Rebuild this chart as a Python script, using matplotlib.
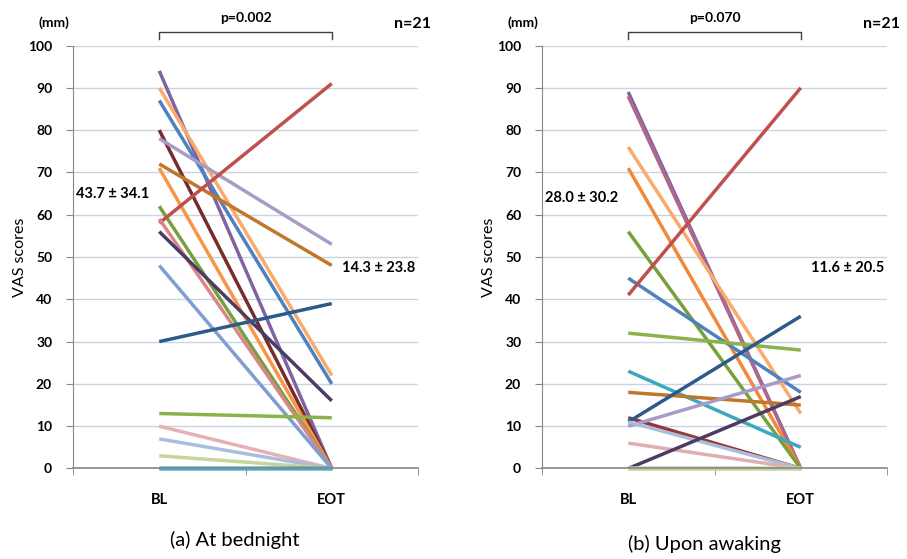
import matplotlib
matplotlib.use("Agg")
import matplotlib.pyplot as plt

plt.rcParams["font.family"] = ["Lato", "DejaVu Sans"]

timepoints = ["BL", "EOT"]

# (a) at bednight, one value per subject
bed_bl = [94, 90, 87, 80, 78, 72, 71, 62, 58, 59, 56, 48, 30, 13, 10, 7, 3, 0, 0, 0, 0]
bed_eot = [0, 22, 20, 0, 53, 48, 0, 0, 91, 0, 16, 0, 39, 12, 0, 0, 0, 0, 0, 0, 0]
bed_colors = ["#8064A2", "#F9AB6B", "#4F81BD", "#772C2A", "#A99BC8", "#C0762B",
              "#F79646", "#77A03C", "#C0504D", "#D9868A", "#4D3B62", "#7F9FD0",
              "#2C5A8C", "#8AB34A", "#E6B0B4", "#A9BEDE", "#C3D69B", "#4BACC6",
              "#4BACC6", "#4BACC6", "#4BACC6"]

# (b) upon awaking
wake_bl = [89, 88, 76, 71, 56, 45, 41, 32, 23, 18, 12, 11, 10, 11, 6, 0, 0, 0, 0, 0, 0]
wake_eot = [0, 0, 13, 0, 0, 18, 90, 28, 5, 15, 0, 36, 22, 0, 0, 17, 0, 0, 0, 0, 0]
wake_colors = ["#8064A2", "#B0688A", "#F9AB6B", "#F08A3A", "#77A03C", "#4F81BD",
               "#C0504D", "#8AB34A", "#3BA8C0", "#C0762B", "#953735", "#2C5A8C",
               "#A99BC8", "#A9BEDE", "#E0AEB0", "#4D3B62", "#C3D69B", "#C3D69B",
               "#C3D69B", "#C3D69B", "#C3D69B"]

panels = [
    dict(bl=bed_bl, eot=bed_eot, colors=bed_colors, p="p=0.002",
         bl_txt="43.7 \u00b1 34.1", eot_txt="14.3 \u00b1 23.8", caption="(a) At bednight",
         bl_y=65, eot_y=47.3, cap_y=-0.168),
    dict(bl=wake_bl, eot=wake_eot, colors=wake_colors, p="p=0.070",
         bl_txt="28.0 \u00b1 30.2", eot_txt="11.6 \u00b1 20.5", caption="(b) Upon awaking",
         bl_y=64, eot_y=47.3, cap_y=-0.178),
]

fig = plt.figure(figsize=(9.07, 5.59), dpi=100)
lefts = [73 / 907, 542 / 907]
grey = "#868686"

for left, pan in zip(lefts, panels):
    ax = fig.add_axes([left, 0.1619, 0.3804, 0.7567])
    ax.set_xlim(0, 2)
    ax.set_ylim(0, 100)
    ax.set_yticks(range(0, 101, 10))
    ax.yaxis.grid(True, color="#C9D3E2", lw=1)
    ax.set_axisbelow(True)
    for s in ["top", "right"]:
        ax.spines[s].set_visible(False)
    ax.spines["left"].set_color(grey)
    ax.spines["bottom"].set_color(grey)
    ax.spines["bottom"].set_linewidth(1.2)

    for b, e, c in zip(pan["bl"], pan["eot"], pan["colors"]):
        ax.plot([0.5, 1.5], [b, e], color=c, lw=2.5, solid_capstyle="butt", clip_on=False)

    ax.set_xticks([0.5, 1.5], timepoints)
    ax.set_xticks([0, 1, 2], minor=True)
    ax.tick_params(axis="x", which="major", length=0, pad=18, labelsize=10.5)
    ax.tick_params(axis="x", which="minor", length=5, color=grey, direction="out")
    ax.tick_params(axis="y", length=5, color=grey, pad=10, labelsize=10)
    for lab in ax.get_xticklabels() + ax.get_yticklabels():
        lab.set_fontweight("bold")

    ax.set_ylabel("VAS scores", fontsize=11.5, labelpad=1)
    ax.text(-0.055, 1.055, "(mm)", transform=ax.transAxes, ha="center", va="center",
            fontsize=10, fontweight="bold")
    ax.text(0.985, 1.05, "n=21", transform=ax.transAxes, ha="center", va="center",
            fontsize=11.5, fontweight="bold")

    # significance bracket
    ax.plot([0.5, 0.5, 1.5, 1.5], [101.6, 103.3, 103.3, 101.6], color="#404040", lw=1,
            clip_on=False)
    ax.text(1.0, 106.5, pan["p"], ha="center", va="center", fontsize=10, fontweight="bold")

    ax.text(0.02, pan["bl_y"], pan["bl_txt"], ha="left", va="center", fontsize=10.5,
            fontweight="bold")
    ax.text(1.56, pan["eot_y"], pan["eot_txt"], ha="left", va="center", fontsize=10.5,
            fontweight="bold")

    ax.text(0.47, pan["cap_y"], pan["caption"], transform=ax.transAxes, ha="center",
            va="center", fontsize=14.5)

fig.savefig("out.png", dpi=100)
